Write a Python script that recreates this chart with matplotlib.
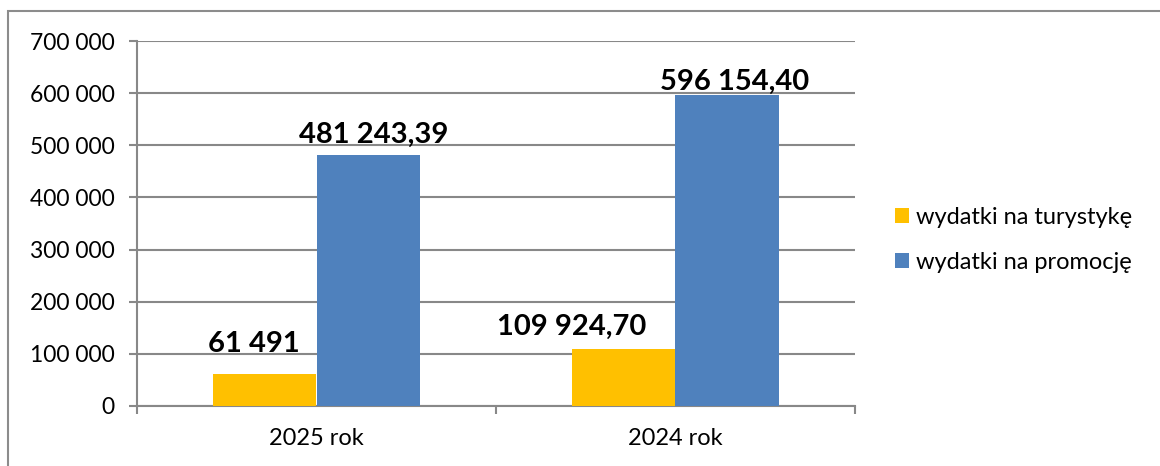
import numpy as np
import matplotlib
matplotlib.use("Agg")
import matplotlib.pyplot as plt
from matplotlib.patches import Rectangle

plt.rcParams['font.family'] = ['Lato', 'DejaVu Sans']

kategorie = ["2025 rok", "2024 rok"]
turystyka = [61491, 109924.70]
promocja = [481243.39, 596154.40]
etykiety_tur = ["61 491", "109 924,70"]
etykiety_prom = ["481 243,39", "596 154,40"]
serie = ["wydatki na turystykę", "wydatki na promocję"]
yticks = [0, 100000, 200000, 300000, 400000, 500000, 600000, 700000]

zolty = "#FFC000"
niebieski = "#4F81BD"
szary = "#888888"

W, H = 1160, 466
fig = plt.figure(figsize=(W / 100, H / 100), dpi=100)
ax = fig.add_axes([137 / W, 1 - 406 / H, 718 / W, 365 / H])

x = np.arange(len(kategorie)) + 0.5
w = 0.287
b1 = ax.bar(x - w, turystyka, width=w, align="edge", color=zolty, label=serie[0], zorder=3)
b2 = ax.bar(x, promocja, width=w, align="edge", color=niebieski, label=serie[1], zorder=3)

# przesuniecia etykiet (px) jak w oryginale
off_tur = [(-11, 22), (-52, 14)]
off_prom = [(6, 12), (8, 5)]
for rect, txt, off in zip(b1, etykiety_tur, off_tur):
    ax.annotate(txt, (rect.get_x() + rect.get_width() / 2, rect.get_height()),
                xytext=off, textcoords="offset pixels", ha="center", va="baseline",
                fontsize=21, fontweight="bold", zorder=5)
for rect, txt, off in zip(b2, etykiety_prom, off_prom):
    ax.annotate(txt, (rect.get_x() + rect.get_width() / 2, rect.get_height()),
                xytext=off, textcoords="offset pixels", ha="center", va="baseline",
                fontsize=21, fontweight="bold", zorder=5)

ax.set_xlim(0, 2)
ax.set_ylim(0, 700000)
ax.set_yticks(yticks)
ax.set_yticklabels([f"{v:,}".replace(",", " ") for v in yticks])
ax.yaxis.grid(True, color=szary, lw=1.5, zorder=0)
ax.set_axisbelow(True)

ax.set_xticks([0, 1, 2])
ax.set_xticklabels([])
ax.set_xticks(x, minor=True)
ax.set_xticklabels(kategorie, minor=True)
ax.tick_params(axis="x", which="major", length=6, width=1.5, color=szary)
ax.tick_params(axis="x", which="minor", length=0, pad=16, labelsize=17)
ax.tick_params(axis="y", length=6, width=1.5, color=szary, pad=10, labelsize=16.5)

for s in ["top", "right"]:
    ax.spines[s].set_visible(False)
for s in ["left", "bottom"]:
    ax.spines[s].set_color(szary)
    ax.spines[s].set_linewidth(1.5)

fig.legend(handles=[b1, b2], labels=serie, loc="center left",
           bbox_to_anchor=(874 / W, 1 - 240 / H), frameon=False,
           fontsize=17, handlelength=0.6, handleheight=0.6, handletextpad=0.3,
           labelspacing=1.0)

fig.patches.append(Rectangle((8 / W, -0.1), 1.2, 1.1 - 11 / H, transform=fig.transFigure,
                             fill=False, edgecolor="#8c8c8c", lw=1.5))

fig.savefig("out.png", dpi=100)
